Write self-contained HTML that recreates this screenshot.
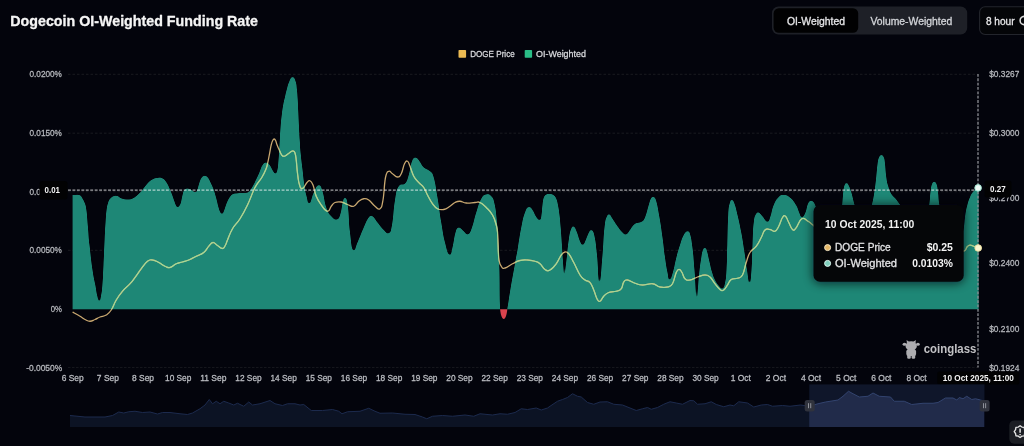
<!DOCTYPE html>
<html lang="en">
<head>
<meta charset="utf-8">
<title>Dogecoin OI-Weighted Funding Rate</title>
<style>
html,body{margin:0;padding:0;}
body{width:1024px;height:446px;overflow:hidden;background:#03040c;font-family:"Liberation Sans",sans-serif;}
svg{display:block;}
svg text{font-family:"Liberation Sans",sans-serif;}
</style>
</head>
<body>
<svg width="1024" height="446" viewBox="0 0 1024 446">
  <defs>
    <clipPath id="cpos"><rect x="72.6" y="0" width="906" height="309.2"/></clipPath>
    <clipPath id="carea"><path d="M72.60,195.00 C74.44,195.03 76.89,194.17 79.50,195.10 C82.11,196.03 81.01,196.39 82.40,198.50 C83.79,200.61 83.63,199.93 84.70,203.00 C85.77,206.07 85.52,203.33 86.40,210.00 C87.28,216.67 87.17,218.67 88.00,228.00 C88.83,237.33 88.30,233.80 89.50,245.00 C90.70,256.20 90.95,259.33 92.50,270.00 C94.05,280.67 94.02,278.07 95.30,285.00 C96.58,291.93 96.23,291.57 97.30,296.00 C98.37,300.43 98.31,301.60 99.30,301.60 C100.29,301.60 100.17,300.43 101.00,296.00 C101.83,291.57 101.73,293.27 102.40,285.00 C103.07,276.73 102.91,277.00 103.50,265.00 C104.09,253.00 104.04,251.47 104.60,240.00 C105.16,228.53 105.07,230.00 105.60,222.00 C106.13,214.00 105.91,215.17 106.60,210.00 C107.29,204.83 107.32,205.53 108.20,202.60 C109.08,199.67 108.65,200.65 109.90,199.00 C111.15,197.35 111.33,197.28 112.90,196.40 C114.47,195.52 114.25,195.70 115.80,195.70 C117.35,195.70 117.58,195.81 118.70,196.40 C119.82,196.99 118.70,197.07 120.00,197.90 C122.35,198.73 123.82,199.50 127.50,199.50 C131.18,199.50 130.44,199.74 133.80,197.90 C137.16,196.06 137.09,195.67 140.10,192.60 C143.11,189.53 142.09,189.73 145.10,186.40 C148.11,183.07 148.04,182.37 151.40,180.10 C154.76,177.83 154.69,178.30 157.70,177.90 C160.71,177.50 160.35,177.35 162.70,178.60 C165.05,179.85 164.50,179.53 166.50,182.60 C168.50,185.67 168.20,185.41 170.20,190.10 C172.20,194.79 172.48,196.17 174.00,200.20 C175.52,204.23 174.89,203.20 175.90,205.20 C176.91,207.20 176.79,207.70 177.80,207.70 C178.81,207.70 178.87,206.53 179.70,205.20 C180.53,203.87 180.07,205.71 180.90,202.70 C181.73,199.69 181.79,197.42 182.80,193.90 C183.81,190.38 183.37,190.91 184.70,189.50 C186.03,188.09 185.96,188.44 187.80,188.60 C189.64,188.76 189.57,189.03 191.60,190.10 C193.63,191.17 193.88,192.60 195.40,192.60 C196.92,192.60 196.31,192.45 197.30,190.10 C198.29,187.75 197.93,187.13 199.10,183.80 C200.27,180.47 200.18,179.76 201.70,177.60 C203.22,175.44 203.15,175.70 204.80,175.70 C206.45,175.70 206.22,175.44 207.90,177.60 C209.58,179.76 209.58,180.63 211.10,183.80 C212.62,186.97 212.27,185.79 213.60,189.50 C214.93,193.21 214.77,192.85 216.10,197.70 C217.43,202.55 217.43,203.70 218.60,207.70 C219.77,211.70 219.65,210.97 220.50,212.70 C221.35,214.43 221.05,214.20 221.80,214.20 C222.55,214.20 222.31,214.75 223.30,212.70 C224.29,210.65 224.41,209.51 225.50,206.50 C226.59,203.49 226.23,203.93 227.40,201.40 C228.57,198.87 228.41,198.95 229.90,197.00 C231.39,195.05 231.16,195.06 233.00,194.10 C234.84,193.14 233.00,193.80 236.80,193.40 C240.80,193.00 244.48,193.37 248.00,192.60 C250.00,191.83 248.40,192.79 250.00,190.50 C251.60,188.21 251.49,188.80 254.00,184.00 C256.51,179.20 257.19,177.41 259.40,172.50 C261.61,167.59 260.59,168.27 262.30,165.60 C264.01,162.93 263.83,162.63 265.80,162.50 C267.77,162.37 267.86,162.94 269.70,165.10 C271.54,167.26 271.18,168.23 272.70,170.60 C274.22,172.97 274.17,174.03 275.40,174.00 C276.63,173.97 276.53,173.43 277.30,170.50 C278.07,167.57 277.82,167.99 278.30,163.00 C278.78,158.01 278.70,157.93 279.10,151.80 C279.50,145.67 279.40,146.61 279.80,140.00 C280.20,133.39 280.07,133.72 280.60,127.00 C281.13,120.28 281.05,120.93 281.80,114.80 C282.55,108.67 282.55,108.75 283.40,104.00 C284.25,99.25 284.09,100.84 285.00,97.00 C285.91,93.16 285.68,93.65 286.80,89.60 C287.92,85.55 287.65,85.24 289.20,81.80 C290.75,78.36 290.87,76.70 292.60,76.70 C294.33,76.70 294.55,78.36 295.70,81.80 C296.85,85.24 296.39,85.28 296.90,89.60 C297.41,93.92 297.25,92.56 297.60,98.00 C297.95,103.44 297.83,102.27 298.20,110.00 C298.57,117.73 298.60,119.00 299.00,127.00 C299.40,135.00 299.22,132.59 299.70,140.00 C300.18,147.41 300.05,146.91 300.80,154.80 C301.55,162.69 301.59,161.81 302.50,169.60 C303.41,177.39 303.13,176.96 304.20,184.00 C305.27,191.04 305.09,190.73 306.50,196.00 C307.91,201.27 307.57,204.68 309.50,203.75 C311.43,202.82 311.28,197.50 313.75,192.50 C316.22,187.50 316.42,185.33 318.75,185.00 C321.08,184.67 320.50,185.25 322.50,191.25 C324.50,197.25 323.92,200.83 326.25,207.50 C328.58,214.17 328.38,213.05 331.25,216.25 C334.12,219.45 334.53,220.17 337.00,219.50 C339.47,218.83 338.90,218.62 340.50,213.75 C342.10,208.88 341.67,205.58 343.00,201.25 C344.33,196.92 344.17,195.83 345.50,197.50 C346.83,199.17 346.80,198.17 348.00,207.50 C349.20,216.83 348.60,221.03 350.00,232.50 C351.40,243.97 351.25,247.83 353.25,250.50 C355.25,253.17 354.70,248.63 357.50,242.50 C360.30,236.37 360.75,234.17 363.75,227.50 C366.75,220.83 366.42,220.50 368.75,217.50 C371.08,214.50 370.17,214.92 372.50,216.25 C374.83,217.58 374.50,218.83 377.50,222.50 C380.50,226.17 380.75,227.13 383.75,230.00 C386.75,232.87 386.55,234.58 388.75,233.25 C390.95,231.92 390.33,233.87 392.00,225.00 C393.67,216.13 393.20,210.33 395.00,200.00 C396.80,189.67 396.08,190.58 398.75,186.25 C401.42,181.92 402.33,186.75 405.00,183.75 C407.67,180.75 406.88,181.00 408.75,175.00 C410.62,169.00 410.20,165.92 412.00,161.25 C413.80,156.58 413.50,157.50 415.50,157.50 C417.50,157.50 417.30,158.58 419.50,161.25 C421.70,163.92 420.95,164.83 423.75,167.50 C426.55,170.17 427.33,168.58 430.00,171.25 C432.67,173.92 431.75,170.50 433.75,177.50 C435.75,184.50 435.50,185.50 437.50,197.50 C439.50,209.50 439.25,210.50 441.25,222.50 C443.25,234.50 442.80,233.83 445.00,242.50 C447.20,251.17 447.50,253.67 449.50,255.00 C451.50,256.33 450.90,253.50 452.50,247.50 C454.10,241.50 453.83,237.83 455.50,232.50 C457.17,227.17 456.55,227.83 458.75,227.50 C460.95,227.17 461.28,229.38 463.75,231.25 C466.22,233.12 465.80,235.50 468.00,234.50 C470.20,233.50 469.80,233.37 472.00,227.50 C474.20,221.63 473.78,220.17 476.25,212.50 C478.72,204.83 478.58,203.55 481.25,198.75 C483.92,193.95 483.58,195.17 486.25,194.50 C488.92,193.83 489.05,193.78 491.25,196.25 C493.45,198.72 492.97,196.75 494.50,203.75 C496.03,210.75 495.93,211.50 497.00,222.50 C498.07,233.50 497.86,232.33 498.50,245.00 C499.14,257.67 498.97,252.88 499.40,270.00 C499.83,287.12 499.40,294.53 500.10,309.20 C501.25,323.87 501.78,325.00 503.70,325.00 C505.62,325.00 505.54,318.53 507.30,309.20 C509.06,299.87 508.11,302.85 510.30,290.00 C512.49,277.15 513.58,271.67 515.50,261.00 C517.42,250.33 515.97,258.93 517.50,250.00 C519.03,241.07 519.25,237.50 521.25,227.50 C523.25,217.50 523.00,217.97 525.00,212.50 C527.00,207.03 526.75,207.67 528.75,207.00 C530.75,206.33 530.50,207.33 532.50,210.00 C534.50,212.67 534.25,214.28 536.25,217.00 C538.25,219.72 538.60,220.71 540.00,220.20 C541.40,219.69 540.83,219.13 541.50,215.10 C542.17,211.07 541.89,209.79 542.50,205.10 C543.11,200.41 542.79,200.35 543.80,197.50 C544.81,194.65 544.65,195.33 546.30,194.40 C547.95,193.47 548.00,193.76 550.00,194.00 C552.00,194.24 552.12,194.02 553.80,195.30 C555.48,196.58 555.13,195.87 556.30,198.80 C557.47,201.73 557.35,201.95 558.20,206.30 C559.05,210.65 558.83,209.39 559.50,215.10 C560.17,220.81 560.03,219.46 560.70,227.70 C561.37,235.94 561.41,237.39 562.00,246.00 C562.59,254.61 562.30,252.13 562.90,260.00 C563.50,267.87 563.36,274.97 564.25,275.50 C565.14,276.03 565.05,271.47 566.25,262.00 C567.45,252.53 567.42,248.87 568.75,240.00 C570.08,231.13 569.92,232.42 571.25,228.75 C572.58,225.08 572.22,225.25 573.75,226.25 C575.28,227.25 575.33,228.50 577.00,232.50 C578.67,236.50 578.40,237.92 580.00,241.25 C581.60,244.58 581.33,245.67 583.00,245.00 C584.67,244.33 584.52,242.42 586.25,238.75 C587.98,235.08 588.03,233.58 589.50,231.25 C590.97,228.92 590.42,228.67 591.75,230.00 C593.08,231.33 593.10,229.58 594.50,236.25 C595.90,242.92 595.67,242.53 597.00,255.00 C598.33,267.47 598.03,283.00 599.50,283.00 C600.97,283.00 601.17,269.80 602.50,255.00 C603.83,240.20 603.30,237.83 604.50,227.50 C605.70,217.17 605.67,219.78 607.00,216.25 C608.33,212.72 608.03,213.58 609.50,214.25 C610.97,214.92 610.37,215.55 612.50,218.75 C614.63,221.95 614.83,222.58 617.50,226.25 C620.17,229.92 620.17,230.30 622.50,232.50 C624.83,234.70 624.25,235.17 626.25,234.50 C628.25,233.83 627.67,232.87 630.00,230.00 C632.33,227.13 632.00,225.88 635.00,223.75 C638.00,221.62 638.58,223.67 641.25,222.00 C643.92,220.33 643.00,222.03 645.00,217.50 C647.00,212.97 647.08,210.20 648.75,205.00 C650.42,199.80 649.92,200.13 651.25,198.00 C652.58,195.87 652.42,196.13 653.75,197.00 C655.08,197.87 654.72,195.78 656.25,201.25 C657.78,206.72 657.83,207.83 659.50,217.50 C661.17,227.17 661.03,226.83 662.50,237.50 C663.97,248.17 663.67,248.17 665.00,257.50 C666.33,266.83 666.30,266.50 667.50,272.50 C668.70,278.50 668.03,280.13 669.50,280.00 C670.97,279.87 671.20,277.87 673.00,272.00 C674.80,266.13 674.38,265.20 676.25,258.00 C678.12,250.80 678.00,251.13 680.00,245.00 C682.00,238.87 681.75,238.67 683.75,235.00 C685.75,231.33 685.83,231.52 687.50,231.25 C689.17,230.98 688.67,229.53 690.00,234.00 C691.33,238.47 691.30,238.40 692.50,248.00 C693.70,257.60 693.37,256.40 694.50,270.00 C695.63,283.60 695.55,297.67 696.75,299.00 C697.95,300.33 697.80,285.93 699.00,275.00 C700.20,264.07 700.18,264.67 701.25,258.00 C702.32,251.33 701.93,252.80 703.00,250.00 C704.07,247.20 704.18,247.17 705.25,247.50 C706.32,247.83 705.87,247.38 707.00,251.25 C708.13,255.12 708.17,256.47 709.50,262.00 C710.83,267.53 710.53,267.20 712.00,272.00 C713.47,276.80 713.13,276.27 715.00,280.00 C716.87,283.73 717.00,283.67 719.00,286.00 C721.00,288.33 720.90,289.55 722.50,288.75 C724.10,287.95 723.93,288.00 725.00,283.00 C726.07,278.00 725.89,280.13 726.50,270.00 C727.11,259.87 726.83,259.67 727.30,245.00 C727.77,230.33 727.53,226.33 728.25,215.00 C728.97,203.67 729.00,206.63 730.00,202.50 C731.00,198.37 730.80,199.17 732.00,199.50 C733.20,199.83 733.03,199.62 734.50,203.75 C735.97,207.88 735.70,207.33 737.50,215.00 C739.30,222.67 739.38,222.50 741.25,232.50 C743.12,242.50 742.97,242.50 744.50,252.50 C746.03,262.50 745.67,261.73 747.00,270.00 C748.33,278.27 748.30,283.50 749.50,283.50 C750.70,283.50 750.70,280.27 751.50,270.00 C752.30,259.73 751.90,257.67 752.50,245.00 C753.10,232.33 752.75,230.83 753.75,222.50 C754.75,214.17 754.92,216.42 756.25,213.75 C757.58,211.08 757.08,211.83 758.75,212.50 C760.42,213.17 760.17,213.72 762.50,216.25 C764.83,218.78 765.37,222.00 767.50,222.00 C769.63,222.00 768.83,220.78 770.50,216.25 C772.17,211.72 771.55,210.13 773.75,205.00 C775.95,199.87 776.08,199.67 778.75,197.00 C781.42,194.33 780.75,194.87 783.75,195.00 C786.75,195.13 786.73,194.83 790.00,197.50 C793.27,200.17 793.60,201.13 796.00,205.00 C798.40,208.87 797.47,208.67 799.00,212.00 C800.53,215.33 800.02,217.37 801.75,217.50 C803.48,217.63 803.83,216.17 805.50,212.50 C807.17,208.83 806.33,206.88 808.00,203.75 C809.67,200.62 809.62,199.88 811.75,200.75 C813.88,201.62 813.27,200.53 816.00,207.00 C818.73,213.47 818.27,216.20 822.00,225.00 C825.73,233.80 825.73,240.00 830.00,240.00 C834.27,240.00 834.93,232.47 838.00,225.00 C841.07,217.53 840.38,217.33 841.50,212.00 C842.20,206.67 841.72,210.33 842.20,205.00 C842.68,199.67 842.71,197.12 843.30,192.00 C843.89,186.88 843.55,188.36 844.40,185.80 C845.25,183.24 845.33,182.40 846.50,182.40 C847.67,182.40 847.55,183.24 848.80,185.80 C850.05,188.36 849.65,186.88 851.20,192.00 C852.75,197.12 852.79,198.87 854.60,205.00 C856.41,211.13 855.49,211.00 858.00,215.00 C860.51,219.00 861.07,220.00 864.00,220.00 C866.93,220.00 866.89,219.00 869.00,215.00 C871.11,211.00 870.46,211.11 871.90,205.00 C873.34,198.89 873.23,199.73 874.40,192.10 C875.57,184.47 875.45,183.95 876.30,176.40 C877.15,168.85 876.88,168.81 877.60,163.80 C878.32,158.79 878.01,160.03 879.00,157.60 C879.99,155.17 879.99,154.70 881.30,154.70 C882.61,154.70 882.91,155.17 883.90,157.60 C884.89,160.03 884.39,158.79 885.00,163.80 C885.61,168.81 885.37,170.53 886.20,176.40 C887.03,182.27 886.77,181.19 888.10,185.80 C889.43,190.41 889.09,190.13 891.20,193.70 C893.31,197.27 893.57,196.19 896.00,199.20 C898.43,202.21 897.10,200.79 900.30,205.00 C903.50,209.21 902.75,211.53 908.00,215.00 C913.25,218.47 914.93,218.80 920.00,218.00 C925.07,217.20 924.55,215.47 927.00,212.00 C929.20,208.53 928.27,210.33 929.20,205.00 C930.13,199.67 929.75,197.60 930.50,192.00 C931.25,186.40 931.04,186.83 932.00,184.00 C932.96,181.17 932.90,181.40 934.10,181.40 C935.30,181.40 935.46,181.17 936.50,184.00 C937.54,186.83 937.23,186.40 938.00,192.00 C938.77,197.60 938.07,197.53 939.40,205.00 C940.73,212.47 940.17,210.67 943.00,220.00 C945.83,229.33 946.00,233.33 950.00,240.00 C954.00,246.67 954.53,247.13 958.00,245.00 C961.47,242.87 961.05,240.00 963.00,232.00 C964.95,224.00 964.13,222.20 965.30,215.00 C966.47,207.80 966.09,209.85 967.40,205.00 C968.71,200.15 968.73,200.24 970.20,196.80 C971.67,193.36 971.35,194.18 972.90,192.10 C974.45,190.02 974.64,190.09 976.00,189.00 C977.36,187.91 977.47,188.27 978.00,188.00 L978.00,309.20 L72.60,309.20 Z"/></clipPath>
    <clipPath id="cwin"><rect x="809.25" y="380" width="175.2" height="47"/></clipPath>
    <filter id="goo" filterUnits="userSpaceOnUse" x="40" y="50" width="970" height="300" color-interpolation-filters="sRGB"><feGaussianBlur stdDeviation="0.9" result="b"/><feComponentTransfer in="b"><feFuncA type="linear" slope="4" intercept="-1.5"/></feComponentTransfer></filter>
    <filter id="sh" x="-30%" y="-30%" width="160%" height="160%"><feGaussianBlur stdDeviation="5"/></filter>
  </defs>
  <rect x="0" y="0" width="1024" height="446" fill="#03040c"/>

  <!-- header -->
  <text x="10.25" y="25.50" font-size="14.8" font-weight="700" fill="#f5f5f5" textLength="247.75" lengthAdjust="spacingAndGlyphs" stroke="#f5f5f5" stroke-width="0.3" stroke-linejoin="round">Dogecoin OI-Weighted Funding Rate</text>
  <rect x="772" y="6.6" width="195.2" height="27.9" rx="6.5" fill="#1e2027"/>
  <rect x="773.6" y="8.3" width="84.6" height="24.4" rx="5.2" fill="#010102"/>
  <rect x="979.6" y="6.7" width="60" height="27.8" rx="5.5" fill="#040508" stroke="#23252c" stroke-width="1.1"/>
  <path d="M1024.2,16.4 A4.1,4.1 0 0 0 1024.2,24.6" fill="none" stroke="#dcdcdc" stroke-width="1.6"/>
  <text x="786.90" y="24.50" font-size="10.3" font-weight="400" fill="#e6e6e8" textLength="58.10" lengthAdjust="spacingAndGlyphs" stroke="#e6e6e8" stroke-width="0.3" stroke-linejoin="round">OI-Weighted</text>
  <text x="870.50" y="24.50" font-size="10.3" font-weight="400" fill="#d3d5d9" textLength="81.70" lengthAdjust="spacingAndGlyphs" stroke="#d3d5d9" stroke-width="0.3" stroke-linejoin="round">Volume-Weighted</text>
  <text x="985.90" y="24.50" font-size="10.3" font-weight="400" fill="#e6e6e8" textLength="28.70" lengthAdjust="spacingAndGlyphs" stroke="#e6e6e8" stroke-width="0.3" stroke-linejoin="round">8 hour</text>

  <!-- grid -->
  <g stroke="#1a1b20" stroke-width="1" stroke-dasharray="2.5 2" fill="none">
    <line x1="68" y1="74.3" x2="978" y2="74.3"/>
    <line x1="68" y1="133.2" x2="978" y2="133.2"/>
    <line x1="68" y1="191.7" x2="978" y2="191.7"/>
    <line x1="68" y1="250.3" x2="978" y2="250.3"/>
  </g>
  <line x1="68" y1="367.5" x2="978" y2="367.5" stroke="#15161c" stroke-width="1" stroke-dasharray="2.5 1.5"/>
  <!-- axis labels -->
  <text x="29.50" y="77.40" font-size="9.3" font-weight="400" fill="#b4b6bb" textLength="32.40" lengthAdjust="spacingAndGlyphs" stroke="#b4b6bb" stroke-width="0.3" stroke-linejoin="round">0.0200%</text>
  <text x="29.50" y="136.40" font-size="9.3" font-weight="400" fill="#b4b6bb" textLength="32.40" lengthAdjust="spacingAndGlyphs" stroke="#b4b6bb" stroke-width="0.3" stroke-linejoin="round">0.0150%</text>
  <text x="29.50" y="194.80" font-size="9.3" font-weight="400" fill="#b4b6bb" textLength="32.40" lengthAdjust="spacingAndGlyphs" stroke="#b4b6bb" stroke-width="0.3" stroke-linejoin="round">0.0100%</text>
  <text x="29.50" y="253.40" font-size="9.3" font-weight="400" fill="#b4b6bb" textLength="32.40" lengthAdjust="spacingAndGlyphs" stroke="#b4b6bb" stroke-width="0.3" stroke-linejoin="round">0.0050%</text>
  <text x="50.70" y="311.80" font-size="9.3" font-weight="400" fill="#b4b6bb" textLength="11.20" lengthAdjust="spacingAndGlyphs" stroke="#b4b6bb" stroke-width="0.3" stroke-linejoin="round">0%</text>
  <text x="26.20" y="370.80" font-size="9.3" font-weight="400" fill="#b4b6bb" textLength="36.00" lengthAdjust="spacingAndGlyphs" stroke="#b4b6bb" stroke-width="0.3" stroke-linejoin="round">-0.0050%</text>
  <text x="989.20" y="77.40" font-size="9.3" font-weight="400" fill="#b4b6bb" textLength="30.10" lengthAdjust="spacingAndGlyphs" stroke="#b4b6bb" stroke-width="0.3" stroke-linejoin="round">$0.3267</text>
  <text x="989.20" y="136.40" font-size="9.3" font-weight="400" fill="#b4b6bb" textLength="30.10" lengthAdjust="spacingAndGlyphs" stroke="#b4b6bb" stroke-width="0.3" stroke-linejoin="round">$0.3000</text>
  <text x="989.20" y="201.30" font-size="9.3" font-weight="400" fill="#b4b6bb" textLength="30.10" lengthAdjust="spacingAndGlyphs" stroke="#b4b6bb" stroke-width="0.3" stroke-linejoin="round">$0.2700</text>
  <text x="989.20" y="266.30" font-size="9.3" font-weight="400" fill="#b4b6bb" textLength="30.10" lengthAdjust="spacingAndGlyphs" stroke="#b4b6bb" stroke-width="0.3" stroke-linejoin="round">$0.2400</text>
  <text x="989.20" y="332.00" font-size="9.3" font-weight="400" fill="#b4b6bb" textLength="30.10" lengthAdjust="spacingAndGlyphs" stroke="#b4b6bb" stroke-width="0.3" stroke-linejoin="round">$0.2100</text>
  <text x="989.20" y="370.50" font-size="9.3" font-weight="400" fill="#b4b6bb" textLength="30.10" lengthAdjust="spacingAndGlyphs" stroke="#b4b6bb" stroke-width="0.3" stroke-linejoin="round">$0.1924</text>
  <!-- legend -->
  <rect x="458.5" y="50" width="7.6" height="7.7" rx="0.8" fill="#ecba52"/>
  <rect x="524.7" y="50" width="7.4" height="7.7" rx="0.8" fill="#2abd86"/>
  <text x="470.20" y="57.10" font-size="9.6" font-weight="400" fill="#d6d7db" textLength="44.50" lengthAdjust="spacingAndGlyphs" stroke="#d6d7db" stroke-width="0.3" stroke-linejoin="round">DOGE Price</text>
  <text x="536.10" y="57.10" font-size="9.6" font-weight="400" fill="#d6d7db" textLength="49.80" lengthAdjust="spacingAndGlyphs" stroke="#d6d7db" stroke-width="0.3" stroke-linejoin="round">OI-Weighted</text>
  <!-- area -->
  <g clip-path="url(#cpos)"><g filter="url(#goo)"><path d="M72.60,195.00 C74.44,195.03 76.89,194.17 79.50,195.10 C82.11,196.03 81.01,196.39 82.40,198.50 C83.79,200.61 83.63,199.93 84.70,203.00 C85.77,206.07 85.52,203.33 86.40,210.00 C87.28,216.67 87.17,218.67 88.00,228.00 C88.83,237.33 88.30,233.80 89.50,245.00 C90.70,256.20 90.95,259.33 92.50,270.00 C94.05,280.67 94.02,278.07 95.30,285.00 C96.58,291.93 96.23,291.57 97.30,296.00 C98.37,300.43 98.31,301.60 99.30,301.60 C100.29,301.60 100.17,300.43 101.00,296.00 C101.83,291.57 101.73,293.27 102.40,285.00 C103.07,276.73 102.91,277.00 103.50,265.00 C104.09,253.00 104.04,251.47 104.60,240.00 C105.16,228.53 105.07,230.00 105.60,222.00 C106.13,214.00 105.91,215.17 106.60,210.00 C107.29,204.83 107.32,205.53 108.20,202.60 C109.08,199.67 108.65,200.65 109.90,199.00 C111.15,197.35 111.33,197.28 112.90,196.40 C114.47,195.52 114.25,195.70 115.80,195.70 C117.35,195.70 117.58,195.81 118.70,196.40 C119.82,196.99 118.70,197.07 120.00,197.90 C122.35,198.73 123.82,199.50 127.50,199.50 C131.18,199.50 130.44,199.74 133.80,197.90 C137.16,196.06 137.09,195.67 140.10,192.60 C143.11,189.53 142.09,189.73 145.10,186.40 C148.11,183.07 148.04,182.37 151.40,180.10 C154.76,177.83 154.69,178.30 157.70,177.90 C160.71,177.50 160.35,177.35 162.70,178.60 C165.05,179.85 164.50,179.53 166.50,182.60 C168.50,185.67 168.20,185.41 170.20,190.10 C172.20,194.79 172.48,196.17 174.00,200.20 C175.52,204.23 174.89,203.20 175.90,205.20 C176.91,207.20 176.79,207.70 177.80,207.70 C178.81,207.70 178.87,206.53 179.70,205.20 C180.53,203.87 180.07,205.71 180.90,202.70 C181.73,199.69 181.79,197.42 182.80,193.90 C183.81,190.38 183.37,190.91 184.70,189.50 C186.03,188.09 185.96,188.44 187.80,188.60 C189.64,188.76 189.57,189.03 191.60,190.10 C193.63,191.17 193.88,192.60 195.40,192.60 C196.92,192.60 196.31,192.45 197.30,190.10 C198.29,187.75 197.93,187.13 199.10,183.80 C200.27,180.47 200.18,179.76 201.70,177.60 C203.22,175.44 203.15,175.70 204.80,175.70 C206.45,175.70 206.22,175.44 207.90,177.60 C209.58,179.76 209.58,180.63 211.10,183.80 C212.62,186.97 212.27,185.79 213.60,189.50 C214.93,193.21 214.77,192.85 216.10,197.70 C217.43,202.55 217.43,203.70 218.60,207.70 C219.77,211.70 219.65,210.97 220.50,212.70 C221.35,214.43 221.05,214.20 221.80,214.20 C222.55,214.20 222.31,214.75 223.30,212.70 C224.29,210.65 224.41,209.51 225.50,206.50 C226.59,203.49 226.23,203.93 227.40,201.40 C228.57,198.87 228.41,198.95 229.90,197.00 C231.39,195.05 231.16,195.06 233.00,194.10 C234.84,193.14 233.00,193.80 236.80,193.40 C240.80,193.00 244.48,193.37 248.00,192.60 C250.00,191.83 248.40,192.79 250.00,190.50 C251.60,188.21 251.49,188.80 254.00,184.00 C256.51,179.20 257.19,177.41 259.40,172.50 C261.61,167.59 260.59,168.27 262.30,165.60 C264.01,162.93 263.83,162.63 265.80,162.50 C267.77,162.37 267.86,162.94 269.70,165.10 C271.54,167.26 271.18,168.23 272.70,170.60 C274.22,172.97 274.17,174.03 275.40,174.00 C276.63,173.97 276.53,173.43 277.30,170.50 C278.07,167.57 277.82,167.99 278.30,163.00 C278.78,158.01 278.70,157.93 279.10,151.80 C279.50,145.67 279.40,146.61 279.80,140.00 C280.20,133.39 280.07,133.72 280.60,127.00 C281.13,120.28 281.05,120.93 281.80,114.80 C282.55,108.67 282.55,108.75 283.40,104.00 C284.25,99.25 284.09,100.84 285.00,97.00 C285.91,93.16 285.68,93.65 286.80,89.60 C287.92,85.55 287.65,85.24 289.20,81.80 C290.75,78.36 290.87,76.70 292.60,76.70 C294.33,76.70 294.55,78.36 295.70,81.80 C296.85,85.24 296.39,85.28 296.90,89.60 C297.41,93.92 297.25,92.56 297.60,98.00 C297.95,103.44 297.83,102.27 298.20,110.00 C298.57,117.73 298.60,119.00 299.00,127.00 C299.40,135.00 299.22,132.59 299.70,140.00 C300.18,147.41 300.05,146.91 300.80,154.80 C301.55,162.69 301.59,161.81 302.50,169.60 C303.41,177.39 303.13,176.96 304.20,184.00 C305.27,191.04 305.09,190.73 306.50,196.00 C307.91,201.27 307.57,204.68 309.50,203.75 C311.43,202.82 311.28,197.50 313.75,192.50 C316.22,187.50 316.42,185.33 318.75,185.00 C321.08,184.67 320.50,185.25 322.50,191.25 C324.50,197.25 323.92,200.83 326.25,207.50 C328.58,214.17 328.38,213.05 331.25,216.25 C334.12,219.45 334.53,220.17 337.00,219.50 C339.47,218.83 338.90,218.62 340.50,213.75 C342.10,208.88 341.67,205.58 343.00,201.25 C344.33,196.92 344.17,195.83 345.50,197.50 C346.83,199.17 346.80,198.17 348.00,207.50 C349.20,216.83 348.60,221.03 350.00,232.50 C351.40,243.97 351.25,247.83 353.25,250.50 C355.25,253.17 354.70,248.63 357.50,242.50 C360.30,236.37 360.75,234.17 363.75,227.50 C366.75,220.83 366.42,220.50 368.75,217.50 C371.08,214.50 370.17,214.92 372.50,216.25 C374.83,217.58 374.50,218.83 377.50,222.50 C380.50,226.17 380.75,227.13 383.75,230.00 C386.75,232.87 386.55,234.58 388.75,233.25 C390.95,231.92 390.33,233.87 392.00,225.00 C393.67,216.13 393.20,210.33 395.00,200.00 C396.80,189.67 396.08,190.58 398.75,186.25 C401.42,181.92 402.33,186.75 405.00,183.75 C407.67,180.75 406.88,181.00 408.75,175.00 C410.62,169.00 410.20,165.92 412.00,161.25 C413.80,156.58 413.50,157.50 415.50,157.50 C417.50,157.50 417.30,158.58 419.50,161.25 C421.70,163.92 420.95,164.83 423.75,167.50 C426.55,170.17 427.33,168.58 430.00,171.25 C432.67,173.92 431.75,170.50 433.75,177.50 C435.75,184.50 435.50,185.50 437.50,197.50 C439.50,209.50 439.25,210.50 441.25,222.50 C443.25,234.50 442.80,233.83 445.00,242.50 C447.20,251.17 447.50,253.67 449.50,255.00 C451.50,256.33 450.90,253.50 452.50,247.50 C454.10,241.50 453.83,237.83 455.50,232.50 C457.17,227.17 456.55,227.83 458.75,227.50 C460.95,227.17 461.28,229.38 463.75,231.25 C466.22,233.12 465.80,235.50 468.00,234.50 C470.20,233.50 469.80,233.37 472.00,227.50 C474.20,221.63 473.78,220.17 476.25,212.50 C478.72,204.83 478.58,203.55 481.25,198.75 C483.92,193.95 483.58,195.17 486.25,194.50 C488.92,193.83 489.05,193.78 491.25,196.25 C493.45,198.72 492.97,196.75 494.50,203.75 C496.03,210.75 495.93,211.50 497.00,222.50 C498.07,233.50 497.86,232.33 498.50,245.00 C499.14,257.67 498.97,252.88 499.40,270.00 C499.83,287.12 499.40,294.53 500.10,309.20 C501.25,323.87 501.78,325.00 503.70,325.00 C505.62,325.00 505.54,318.53 507.30,309.20 C509.06,299.87 508.11,302.85 510.30,290.00 C512.49,277.15 513.58,271.67 515.50,261.00 C517.42,250.33 515.97,258.93 517.50,250.00 C519.03,241.07 519.25,237.50 521.25,227.50 C523.25,217.50 523.00,217.97 525.00,212.50 C527.00,207.03 526.75,207.67 528.75,207.00 C530.75,206.33 530.50,207.33 532.50,210.00 C534.50,212.67 534.25,214.28 536.25,217.00 C538.25,219.72 538.60,220.71 540.00,220.20 C541.40,219.69 540.83,219.13 541.50,215.10 C542.17,211.07 541.89,209.79 542.50,205.10 C543.11,200.41 542.79,200.35 543.80,197.50 C544.81,194.65 544.65,195.33 546.30,194.40 C547.95,193.47 548.00,193.76 550.00,194.00 C552.00,194.24 552.12,194.02 553.80,195.30 C555.48,196.58 555.13,195.87 556.30,198.80 C557.47,201.73 557.35,201.95 558.20,206.30 C559.05,210.65 558.83,209.39 559.50,215.10 C560.17,220.81 560.03,219.46 560.70,227.70 C561.37,235.94 561.41,237.39 562.00,246.00 C562.59,254.61 562.30,252.13 562.90,260.00 C563.50,267.87 563.36,274.97 564.25,275.50 C565.14,276.03 565.05,271.47 566.25,262.00 C567.45,252.53 567.42,248.87 568.75,240.00 C570.08,231.13 569.92,232.42 571.25,228.75 C572.58,225.08 572.22,225.25 573.75,226.25 C575.28,227.25 575.33,228.50 577.00,232.50 C578.67,236.50 578.40,237.92 580.00,241.25 C581.60,244.58 581.33,245.67 583.00,245.00 C584.67,244.33 584.52,242.42 586.25,238.75 C587.98,235.08 588.03,233.58 589.50,231.25 C590.97,228.92 590.42,228.67 591.75,230.00 C593.08,231.33 593.10,229.58 594.50,236.25 C595.90,242.92 595.67,242.53 597.00,255.00 C598.33,267.47 598.03,283.00 599.50,283.00 C600.97,283.00 601.17,269.80 602.50,255.00 C603.83,240.20 603.30,237.83 604.50,227.50 C605.70,217.17 605.67,219.78 607.00,216.25 C608.33,212.72 608.03,213.58 609.50,214.25 C610.97,214.92 610.37,215.55 612.50,218.75 C614.63,221.95 614.83,222.58 617.50,226.25 C620.17,229.92 620.17,230.30 622.50,232.50 C624.83,234.70 624.25,235.17 626.25,234.50 C628.25,233.83 627.67,232.87 630.00,230.00 C632.33,227.13 632.00,225.88 635.00,223.75 C638.00,221.62 638.58,223.67 641.25,222.00 C643.92,220.33 643.00,222.03 645.00,217.50 C647.00,212.97 647.08,210.20 648.75,205.00 C650.42,199.80 649.92,200.13 651.25,198.00 C652.58,195.87 652.42,196.13 653.75,197.00 C655.08,197.87 654.72,195.78 656.25,201.25 C657.78,206.72 657.83,207.83 659.50,217.50 C661.17,227.17 661.03,226.83 662.50,237.50 C663.97,248.17 663.67,248.17 665.00,257.50 C666.33,266.83 666.30,266.50 667.50,272.50 C668.70,278.50 668.03,280.13 669.50,280.00 C670.97,279.87 671.20,277.87 673.00,272.00 C674.80,266.13 674.38,265.20 676.25,258.00 C678.12,250.80 678.00,251.13 680.00,245.00 C682.00,238.87 681.75,238.67 683.75,235.00 C685.75,231.33 685.83,231.52 687.50,231.25 C689.17,230.98 688.67,229.53 690.00,234.00 C691.33,238.47 691.30,238.40 692.50,248.00 C693.70,257.60 693.37,256.40 694.50,270.00 C695.63,283.60 695.55,297.67 696.75,299.00 C697.95,300.33 697.80,285.93 699.00,275.00 C700.20,264.07 700.18,264.67 701.25,258.00 C702.32,251.33 701.93,252.80 703.00,250.00 C704.07,247.20 704.18,247.17 705.25,247.50 C706.32,247.83 705.87,247.38 707.00,251.25 C708.13,255.12 708.17,256.47 709.50,262.00 C710.83,267.53 710.53,267.20 712.00,272.00 C713.47,276.80 713.13,276.27 715.00,280.00 C716.87,283.73 717.00,283.67 719.00,286.00 C721.00,288.33 720.90,289.55 722.50,288.75 C724.10,287.95 723.93,288.00 725.00,283.00 C726.07,278.00 725.89,280.13 726.50,270.00 C727.11,259.87 726.83,259.67 727.30,245.00 C727.77,230.33 727.53,226.33 728.25,215.00 C728.97,203.67 729.00,206.63 730.00,202.50 C731.00,198.37 730.80,199.17 732.00,199.50 C733.20,199.83 733.03,199.62 734.50,203.75 C735.97,207.88 735.70,207.33 737.50,215.00 C739.30,222.67 739.38,222.50 741.25,232.50 C743.12,242.50 742.97,242.50 744.50,252.50 C746.03,262.50 745.67,261.73 747.00,270.00 C748.33,278.27 748.30,283.50 749.50,283.50 C750.70,283.50 750.70,280.27 751.50,270.00 C752.30,259.73 751.90,257.67 752.50,245.00 C753.10,232.33 752.75,230.83 753.75,222.50 C754.75,214.17 754.92,216.42 756.25,213.75 C757.58,211.08 757.08,211.83 758.75,212.50 C760.42,213.17 760.17,213.72 762.50,216.25 C764.83,218.78 765.37,222.00 767.50,222.00 C769.63,222.00 768.83,220.78 770.50,216.25 C772.17,211.72 771.55,210.13 773.75,205.00 C775.95,199.87 776.08,199.67 778.75,197.00 C781.42,194.33 780.75,194.87 783.75,195.00 C786.75,195.13 786.73,194.83 790.00,197.50 C793.27,200.17 793.60,201.13 796.00,205.00 C798.40,208.87 797.47,208.67 799.00,212.00 C800.53,215.33 800.02,217.37 801.75,217.50 C803.48,217.63 803.83,216.17 805.50,212.50 C807.17,208.83 806.33,206.88 808.00,203.75 C809.67,200.62 809.62,199.88 811.75,200.75 C813.88,201.62 813.27,200.53 816.00,207.00 C818.73,213.47 818.27,216.20 822.00,225.00 C825.73,233.80 825.73,240.00 830.00,240.00 C834.27,240.00 834.93,232.47 838.00,225.00 C841.07,217.53 840.38,217.33 841.50,212.00 C842.20,206.67 841.72,210.33 842.20,205.00 C842.68,199.67 842.71,197.12 843.30,192.00 C843.89,186.88 843.55,188.36 844.40,185.80 C845.25,183.24 845.33,182.40 846.50,182.40 C847.67,182.40 847.55,183.24 848.80,185.80 C850.05,188.36 849.65,186.88 851.20,192.00 C852.75,197.12 852.79,198.87 854.60,205.00 C856.41,211.13 855.49,211.00 858.00,215.00 C860.51,219.00 861.07,220.00 864.00,220.00 C866.93,220.00 866.89,219.00 869.00,215.00 C871.11,211.00 870.46,211.11 871.90,205.00 C873.34,198.89 873.23,199.73 874.40,192.10 C875.57,184.47 875.45,183.95 876.30,176.40 C877.15,168.85 876.88,168.81 877.60,163.80 C878.32,158.79 878.01,160.03 879.00,157.60 C879.99,155.17 879.99,154.70 881.30,154.70 C882.61,154.70 882.91,155.17 883.90,157.60 C884.89,160.03 884.39,158.79 885.00,163.80 C885.61,168.81 885.37,170.53 886.20,176.40 C887.03,182.27 886.77,181.19 888.10,185.80 C889.43,190.41 889.09,190.13 891.20,193.70 C893.31,197.27 893.57,196.19 896.00,199.20 C898.43,202.21 897.10,200.79 900.30,205.00 C903.50,209.21 902.75,211.53 908.00,215.00 C913.25,218.47 914.93,218.80 920.00,218.00 C925.07,217.20 924.55,215.47 927.00,212.00 C929.20,208.53 928.27,210.33 929.20,205.00 C930.13,199.67 929.75,197.60 930.50,192.00 C931.25,186.40 931.04,186.83 932.00,184.00 C932.96,181.17 932.90,181.40 934.10,181.40 C935.30,181.40 935.46,181.17 936.50,184.00 C937.54,186.83 937.23,186.40 938.00,192.00 C938.77,197.60 938.07,197.53 939.40,205.00 C940.73,212.47 940.17,210.67 943.00,220.00 C945.83,229.33 946.00,233.33 950.00,240.00 C954.00,246.67 954.53,247.13 958.00,245.00 C961.47,242.87 961.05,240.00 963.00,232.00 C964.95,224.00 964.13,222.20 965.30,215.00 C966.47,207.80 966.09,209.85 967.40,205.00 C968.71,200.15 968.73,200.24 970.20,196.80 C971.67,193.36 971.35,194.18 972.90,192.10 C974.45,190.02 974.64,190.09 976.00,189.00 C977.36,187.91 977.47,188.27 978.00,188.00 L993.00,188.00 L993.00,340 L57.60,340 L57.60,195.00 Z" fill="#1e8776"/></g></g>
  <path d="M500.1,309.2 C500.5,313.5 501.7,318.9 503.7,318.9 C505.7,318.9 506.9,313.5 507.3,309.2 Z" fill="#d9434e"/>
  <!-- price line -->
  <path d="M72.60,312.00 C74.33,312.99 77.11,314.50 80.00,316.25 C82.89,318.00 82.67,318.33 85.00,319.50 C87.33,320.67 87.67,321.25 90.00,321.25 C92.33,321.25 92.67,320.49 95.00,319.50 C97.33,318.51 97.38,318.05 100.00,317.00 C102.62,315.95 103.62,316.63 106.25,315.00 C108.88,313.37 108.92,313.50 111.25,310.00 C113.58,306.50 113.62,304.38 116.25,300.00 C118.88,295.62 119.29,295.04 122.50,291.25 C125.71,287.46 127.08,286.96 130.00,283.75 C132.92,280.54 132.38,281.00 135.00,277.50 C137.62,274.00 138.33,272.54 141.25,268.75 C144.17,264.96 144.88,263.29 147.50,261.25 C150.12,259.21 149.88,259.71 152.50,260.00 C155.12,260.29 155.83,261.04 158.75,262.50 C161.67,263.96 162.38,265.08 165.00,266.25 C167.62,267.42 167.38,268.08 170.00,267.50 C172.62,266.92 173.33,265.03 176.25,263.75 C179.17,262.47 179.58,262.88 182.50,262.00 C185.42,261.12 185.54,261.34 188.75,260.00 C191.96,258.66 192.75,258.00 196.25,256.25 C199.75,254.50 200.83,254.83 203.75,252.50 C206.67,250.17 206.59,248.58 208.75,246.25 C210.91,243.92 210.96,242.68 213.00,242.50 C215.04,242.32 215.28,244.10 217.50,245.50 C219.72,246.90 220.63,248.62 222.50,248.50 C224.37,248.38 224.33,246.98 225.50,245.00 C226.67,243.02 225.87,243.79 227.50,240.00 C229.13,236.21 229.58,233.71 232.50,228.75 C235.42,223.79 236.50,224.29 240.00,218.75 C243.50,213.21 244.00,212.29 247.50,205.00 C251.00,197.71 251.66,193.92 255.00,187.50 C258.34,181.08 259.28,181.68 261.80,177.50 C264.32,173.32 264.41,173.05 265.80,169.60 C267.19,166.15 266.84,166.62 267.75,162.70 C268.66,158.78 268.89,156.93 269.70,152.80 C270.50,148.67 270.50,147.87 271.20,145.00 C271.90,142.13 272.00,141.90 272.70,140.50 C273.40,139.10 273.50,138.93 274.20,139.00 C274.90,139.07 275.02,139.40 275.70,140.80 C276.38,142.20 276.19,142.67 277.10,145.00 C278.01,147.33 278.55,148.51 279.60,150.80 C280.65,153.09 280.57,153.52 281.60,154.80 C282.63,156.08 282.62,156.42 284.00,156.30 C285.38,156.18 285.89,155.35 287.50,154.30 C289.11,153.25 289.64,152.57 290.90,151.80 C292.16,151.03 291.97,150.77 292.90,151.00 C293.83,151.23 294.13,150.77 294.90,152.80 C295.67,154.83 295.69,155.78 296.20,159.70 C296.71,163.62 296.61,165.00 297.10,169.60 C297.59,174.20 297.79,176.04 298.30,179.40 C298.81,182.76 298.67,181.92 299.30,184.00 C299.93,186.08 299.96,187.48 301.00,188.30 C302.04,189.12 302.35,188.85 303.75,187.50 C305.15,186.15 305.54,184.07 307.00,182.50 C308.46,180.93 308.60,180.17 310.00,180.75 C311.40,181.33 311.54,181.38 313.00,185.00 C314.46,188.62 314.32,191.58 316.25,196.25 C318.18,200.92 318.62,201.50 321.25,205.00 C323.88,208.50 325.17,210.96 327.50,211.25 C329.83,211.54 329.50,208.29 331.25,206.25 C333.00,204.21 332.67,203.49 335.00,202.50 C337.33,201.51 338.33,201.53 341.25,202.00 C344.17,202.47 344.58,203.51 347.50,204.50 C350.42,205.49 351.12,207.01 353.75,206.25 C356.38,205.49 356.42,203.00 358.75,201.25 C361.08,199.50 361.42,199.04 363.75,198.75 C366.08,198.46 366.12,198.25 368.75,200.00 C371.38,201.75 372.38,204.21 375.00,206.25 C377.62,208.29 378.13,210.21 380.00,208.75 C381.87,207.29 381.72,207.29 383.00,200.00 C384.28,192.71 384.16,184.21 385.50,177.50 C386.84,170.79 387.12,172.12 388.75,171.25 C390.38,170.38 390.46,172.41 392.50,173.75 C394.54,175.09 395.46,177.00 397.50,177.00 C399.54,177.00 399.62,176.84 401.25,173.75 C402.88,170.66 403.04,166.67 404.50,163.75 C405.96,160.83 406.22,160.67 407.50,161.25 C408.78,161.83 408.54,162.75 410.00,166.25 C411.46,169.75 411.71,172.46 413.75,176.25 C415.79,180.04 416.42,179.88 418.75,182.50 C421.08,185.12 421.71,184.58 423.75,187.50 C425.79,190.42 425.46,191.21 427.50,195.00 C429.54,198.79 430.17,200.54 432.50,203.75 C434.83,206.96 434.88,207.41 437.50,208.75 C440.12,210.09 440.83,210.08 443.75,209.50 C446.67,208.92 447.38,207.88 450.00,206.25 C452.62,204.62 452.67,203.67 455.00,202.50 C457.33,201.33 457.38,201.13 460.00,201.25 C462.62,201.37 462.75,202.71 466.25,203.00 C469.75,203.29 471.79,202.62 475.00,202.50 C478.21,202.38 477.38,201.33 480.00,202.50 C482.62,203.67 483.33,204.58 486.25,207.50 C489.17,210.42 490.17,210.92 492.50,215.00 C494.83,219.08 495.02,220.33 496.25,225.00 C497.48,229.67 497.17,227.42 497.75,235.00 C498.33,242.58 497.93,250.21 498.75,257.50 C499.57,264.79 499.79,263.80 501.25,266.25 C502.71,268.70 502.38,268.58 505.00,268.00 C507.62,267.42 509.00,265.50 512.50,263.75 C516.00,262.00 516.50,261.38 520.00,260.50 C523.50,259.62 524.00,259.82 527.50,260.00 C531.00,260.18 532.08,260.38 535.00,261.25 C537.92,262.12 537.67,261.82 540.00,263.75 C542.33,265.68 542.67,268.04 545.00,269.50 C547.33,270.96 547.38,271.34 550.00,270.00 C552.62,268.66 553.62,267.25 556.25,263.75 C558.88,260.25 559.21,257.74 561.25,255.00 C563.29,252.26 563.25,252.29 565.00,252.00 C566.75,251.71 566.71,251.30 568.75,253.75 C570.79,256.20 571.12,257.54 573.75,262.50 C576.38,267.46 577.38,270.92 580.00,275.00 C582.62,279.08 582.67,278.25 585.00,280.00 C587.33,281.75 587.96,280.17 590.00,282.50 C592.04,284.83 592.12,286.21 593.75,290.00 C595.38,293.79 595.54,296.12 597.00,298.75 C598.46,301.38 598.42,301.83 600.00,301.25 C601.58,300.67 601.71,298.29 603.75,296.25 C605.79,294.21 605.83,293.67 608.75,292.50 C611.67,291.33 613.33,292.12 616.25,291.25 C619.17,290.38 619.50,290.91 621.25,288.75 C623.00,286.59 622.29,284.04 623.75,282.00 C625.21,279.96 624.88,279.71 627.50,280.00 C630.12,280.29 631.50,282.08 635.00,283.25 C638.50,284.42 638.42,284.88 642.50,285.00 C646.58,285.12 648.42,283.28 652.50,283.75 C656.58,284.22 656.50,286.24 660.00,287.00 C663.50,287.76 664.58,287.76 667.50,287.00 C670.42,286.24 670.46,287.13 672.50,283.75 C674.54,280.37 674.67,275.82 676.25,272.50 C677.83,269.18 677.91,269.50 679.25,269.50 C680.59,269.50 680.66,270.34 682.00,272.50 C683.34,274.66 683.13,277.00 685.00,278.75 C686.87,280.50 687.08,280.41 690.00,280.00 C692.92,279.59 694.00,278.17 697.50,277.00 C701.00,275.83 702.08,275.00 705.00,275.00 C707.92,275.00 707.67,274.96 710.00,277.00 C712.33,279.04 712.67,280.83 715.00,283.75 C717.33,286.67 717.96,288.04 720.00,289.50 C722.04,290.96 722.00,291.05 723.75,290.00 C725.50,288.95 725.75,287.45 727.50,285.00 C729.25,282.55 728.92,281.07 731.25,279.50 C733.58,277.93 734.88,279.30 737.50,278.25 C740.12,277.20 740.46,278.68 742.50,275.00 C744.54,271.32 744.50,267.75 746.25,262.50 C748.00,257.25 747.67,256.29 750.00,252.50 C752.33,248.71 753.62,249.75 756.25,246.25 C758.88,242.75 759.21,241.29 761.25,237.50 C763.29,233.71 762.96,231.87 765.00,230.00 C767.04,228.13 767.67,229.21 770.00,229.50 C772.33,229.79 772.96,232.01 775.00,231.25 C777.04,230.49 777.00,229.46 778.75,226.25 C780.50,223.04 780.92,219.83 782.50,217.50 C784.08,215.17 784.04,215.08 785.50,216.25 C786.96,217.42 787.12,219.41 788.75,222.50 C790.38,225.59 790.81,228.22 792.50,229.50 C794.19,230.78 793.84,230.51 796.00,228.00 C798.16,225.49 798.95,220.32 801.75,218.75 C804.55,217.18 805.38,219.79 808.00,221.25 C810.62,222.71 810.20,222.96 813.00,225.00 C815.80,227.04 813.70,227.67 820.00,230.00 C826.30,232.33 828.33,232.67 840.00,235.00 C851.67,237.33 856.00,239.30 870.00,240.00 C884.00,240.70 886.00,237.07 900.00,238.00 C914.00,238.93 917.17,241.20 930.00,244.00 C942.83,246.80 947.07,248.37 955.00,250.00 C962.93,251.63 961.20,251.70 964.00,251.00 C966.80,250.30 965.67,248.35 967.00,247.00 C968.33,245.65 968.30,245.43 969.70,245.20 C971.10,244.97 970.83,245.28 973.00,246.00 C975.17,246.72 977.60,247.76 979.00,248.30" fill="none" stroke="#c9a870" stroke-width="1.3" stroke-linejoin="round"/>
  <path d="M72.60,312.00 C74.33,312.99 77.11,314.50 80.00,316.25 C82.89,318.00 82.67,318.33 85.00,319.50 C87.33,320.67 87.67,321.25 90.00,321.25 C92.33,321.25 92.67,320.49 95.00,319.50 C97.33,318.51 97.38,318.05 100.00,317.00 C102.62,315.95 103.62,316.63 106.25,315.00 C108.88,313.37 108.92,313.50 111.25,310.00 C113.58,306.50 113.62,304.38 116.25,300.00 C118.88,295.62 119.29,295.04 122.50,291.25 C125.71,287.46 127.08,286.96 130.00,283.75 C132.92,280.54 132.38,281.00 135.00,277.50 C137.62,274.00 138.33,272.54 141.25,268.75 C144.17,264.96 144.88,263.29 147.50,261.25 C150.12,259.21 149.88,259.71 152.50,260.00 C155.12,260.29 155.83,261.04 158.75,262.50 C161.67,263.96 162.38,265.08 165.00,266.25 C167.62,267.42 167.38,268.08 170.00,267.50 C172.62,266.92 173.33,265.03 176.25,263.75 C179.17,262.47 179.58,262.88 182.50,262.00 C185.42,261.12 185.54,261.34 188.75,260.00 C191.96,258.66 192.75,258.00 196.25,256.25 C199.75,254.50 200.83,254.83 203.75,252.50 C206.67,250.17 206.59,248.58 208.75,246.25 C210.91,243.92 210.96,242.68 213.00,242.50 C215.04,242.32 215.28,244.10 217.50,245.50 C219.72,246.90 220.63,248.62 222.50,248.50 C224.37,248.38 224.33,246.98 225.50,245.00 C226.67,243.02 225.87,243.79 227.50,240.00 C229.13,236.21 229.58,233.71 232.50,228.75 C235.42,223.79 236.50,224.29 240.00,218.75 C243.50,213.21 244.00,212.29 247.50,205.00 C251.00,197.71 251.66,193.92 255.00,187.50 C258.34,181.08 259.28,181.68 261.80,177.50 C264.32,173.32 264.41,173.05 265.80,169.60 C267.19,166.15 266.84,166.62 267.75,162.70 C268.66,158.78 268.89,156.93 269.70,152.80 C270.50,148.67 270.50,147.87 271.20,145.00 C271.90,142.13 272.00,141.90 272.70,140.50 C273.40,139.10 273.50,138.93 274.20,139.00 C274.90,139.07 275.02,139.40 275.70,140.80 C276.38,142.20 276.19,142.67 277.10,145.00 C278.01,147.33 278.55,148.51 279.60,150.80 C280.65,153.09 280.57,153.52 281.60,154.80 C282.63,156.08 282.62,156.42 284.00,156.30 C285.38,156.18 285.89,155.35 287.50,154.30 C289.11,153.25 289.64,152.57 290.90,151.80 C292.16,151.03 291.97,150.77 292.90,151.00 C293.83,151.23 294.13,150.77 294.90,152.80 C295.67,154.83 295.69,155.78 296.20,159.70 C296.71,163.62 296.61,165.00 297.10,169.60 C297.59,174.20 297.79,176.04 298.30,179.40 C298.81,182.76 298.67,181.92 299.30,184.00 C299.93,186.08 299.96,187.48 301.00,188.30 C302.04,189.12 302.35,188.85 303.75,187.50 C305.15,186.15 305.54,184.07 307.00,182.50 C308.46,180.93 308.60,180.17 310.00,180.75 C311.40,181.33 311.54,181.38 313.00,185.00 C314.46,188.62 314.32,191.58 316.25,196.25 C318.18,200.92 318.62,201.50 321.25,205.00 C323.88,208.50 325.17,210.96 327.50,211.25 C329.83,211.54 329.50,208.29 331.25,206.25 C333.00,204.21 332.67,203.49 335.00,202.50 C337.33,201.51 338.33,201.53 341.25,202.00 C344.17,202.47 344.58,203.51 347.50,204.50 C350.42,205.49 351.12,207.01 353.75,206.25 C356.38,205.49 356.42,203.00 358.75,201.25 C361.08,199.50 361.42,199.04 363.75,198.75 C366.08,198.46 366.12,198.25 368.75,200.00 C371.38,201.75 372.38,204.21 375.00,206.25 C377.62,208.29 378.13,210.21 380.00,208.75 C381.87,207.29 381.72,207.29 383.00,200.00 C384.28,192.71 384.16,184.21 385.50,177.50 C386.84,170.79 387.12,172.12 388.75,171.25 C390.38,170.38 390.46,172.41 392.50,173.75 C394.54,175.09 395.46,177.00 397.50,177.00 C399.54,177.00 399.62,176.84 401.25,173.75 C402.88,170.66 403.04,166.67 404.50,163.75 C405.96,160.83 406.22,160.67 407.50,161.25 C408.78,161.83 408.54,162.75 410.00,166.25 C411.46,169.75 411.71,172.46 413.75,176.25 C415.79,180.04 416.42,179.88 418.75,182.50 C421.08,185.12 421.71,184.58 423.75,187.50 C425.79,190.42 425.46,191.21 427.50,195.00 C429.54,198.79 430.17,200.54 432.50,203.75 C434.83,206.96 434.88,207.41 437.50,208.75 C440.12,210.09 440.83,210.08 443.75,209.50 C446.67,208.92 447.38,207.88 450.00,206.25 C452.62,204.62 452.67,203.67 455.00,202.50 C457.33,201.33 457.38,201.13 460.00,201.25 C462.62,201.37 462.75,202.71 466.25,203.00 C469.75,203.29 471.79,202.62 475.00,202.50 C478.21,202.38 477.38,201.33 480.00,202.50 C482.62,203.67 483.33,204.58 486.25,207.50 C489.17,210.42 490.17,210.92 492.50,215.00 C494.83,219.08 495.02,220.33 496.25,225.00 C497.48,229.67 497.17,227.42 497.75,235.00 C498.33,242.58 497.93,250.21 498.75,257.50 C499.57,264.79 499.79,263.80 501.25,266.25 C502.71,268.70 502.38,268.58 505.00,268.00 C507.62,267.42 509.00,265.50 512.50,263.75 C516.00,262.00 516.50,261.38 520.00,260.50 C523.50,259.62 524.00,259.82 527.50,260.00 C531.00,260.18 532.08,260.38 535.00,261.25 C537.92,262.12 537.67,261.82 540.00,263.75 C542.33,265.68 542.67,268.04 545.00,269.50 C547.33,270.96 547.38,271.34 550.00,270.00 C552.62,268.66 553.62,267.25 556.25,263.75 C558.88,260.25 559.21,257.74 561.25,255.00 C563.29,252.26 563.25,252.29 565.00,252.00 C566.75,251.71 566.71,251.30 568.75,253.75 C570.79,256.20 571.12,257.54 573.75,262.50 C576.38,267.46 577.38,270.92 580.00,275.00 C582.62,279.08 582.67,278.25 585.00,280.00 C587.33,281.75 587.96,280.17 590.00,282.50 C592.04,284.83 592.12,286.21 593.75,290.00 C595.38,293.79 595.54,296.12 597.00,298.75 C598.46,301.38 598.42,301.83 600.00,301.25 C601.58,300.67 601.71,298.29 603.75,296.25 C605.79,294.21 605.83,293.67 608.75,292.50 C611.67,291.33 613.33,292.12 616.25,291.25 C619.17,290.38 619.50,290.91 621.25,288.75 C623.00,286.59 622.29,284.04 623.75,282.00 C625.21,279.96 624.88,279.71 627.50,280.00 C630.12,280.29 631.50,282.08 635.00,283.25 C638.50,284.42 638.42,284.88 642.50,285.00 C646.58,285.12 648.42,283.28 652.50,283.75 C656.58,284.22 656.50,286.24 660.00,287.00 C663.50,287.76 664.58,287.76 667.50,287.00 C670.42,286.24 670.46,287.13 672.50,283.75 C674.54,280.37 674.67,275.82 676.25,272.50 C677.83,269.18 677.91,269.50 679.25,269.50 C680.59,269.50 680.66,270.34 682.00,272.50 C683.34,274.66 683.13,277.00 685.00,278.75 C686.87,280.50 687.08,280.41 690.00,280.00 C692.92,279.59 694.00,278.17 697.50,277.00 C701.00,275.83 702.08,275.00 705.00,275.00 C707.92,275.00 707.67,274.96 710.00,277.00 C712.33,279.04 712.67,280.83 715.00,283.75 C717.33,286.67 717.96,288.04 720.00,289.50 C722.04,290.96 722.00,291.05 723.75,290.00 C725.50,288.95 725.75,287.45 727.50,285.00 C729.25,282.55 728.92,281.07 731.25,279.50 C733.58,277.93 734.88,279.30 737.50,278.25 C740.12,277.20 740.46,278.68 742.50,275.00 C744.54,271.32 744.50,267.75 746.25,262.50 C748.00,257.25 747.67,256.29 750.00,252.50 C752.33,248.71 753.62,249.75 756.25,246.25 C758.88,242.75 759.21,241.29 761.25,237.50 C763.29,233.71 762.96,231.87 765.00,230.00 C767.04,228.13 767.67,229.21 770.00,229.50 C772.33,229.79 772.96,232.01 775.00,231.25 C777.04,230.49 777.00,229.46 778.75,226.25 C780.50,223.04 780.92,219.83 782.50,217.50 C784.08,215.17 784.04,215.08 785.50,216.25 C786.96,217.42 787.12,219.41 788.75,222.50 C790.38,225.59 790.81,228.22 792.50,229.50 C794.19,230.78 793.84,230.51 796.00,228.00 C798.16,225.49 798.95,220.32 801.75,218.75 C804.55,217.18 805.38,219.79 808.00,221.25 C810.62,222.71 810.20,222.96 813.00,225.00 C815.80,227.04 813.70,227.67 820.00,230.00 C826.30,232.33 828.33,232.67 840.00,235.00 C851.67,237.33 856.00,239.30 870.00,240.00 C884.00,240.70 886.00,237.07 900.00,238.00 C914.00,238.93 917.17,241.20 930.00,244.00 C942.83,246.80 947.07,248.37 955.00,250.00 C962.93,251.63 961.20,251.70 964.00,251.00 C966.80,250.30 965.67,248.35 967.00,247.00 C968.33,245.65 968.30,245.43 969.70,245.20 C971.10,244.97 970.83,245.28 973.00,246.00 C975.17,246.72 977.60,247.76 979.00,248.30" fill="none" stroke="#a3dc98" stroke-width="1.1" stroke-linejoin="round" clip-path="url(#carea)"/>
  <!-- crosshair -->
  <line x1="68" y1="190.1" x2="978" y2="190.1" stroke="#ffffff" stroke-opacity="0.64" stroke-width="1.15" stroke-dasharray="2.9 1.55"/>
  <line x1="978" y1="74" x2="978" y2="367.5" stroke="#8d8f94" stroke-width="1.3" stroke-dasharray="2.8 1.55"/>
  <circle cx="978.1" cy="187.9" r="3.3" fill="#eefaf6" stroke="#9fe6d0" stroke-width="1"/>
  <circle cx="978.2" cy="248" r="3.3" fill="#fcf7d2" stroke="#eee0a0" stroke-width="1"/>
  <!-- axis pointer labels -->
  <rect x="39.5" y="181" width="28" height="18.5" rx="3" fill="#020203"/>
  <rect x="984.5" y="180.5" width="27" height="17" rx="3" fill="#020203"/>
  <!-- x labels -->
  <text x="61.70" y="381.10" font-size="9.5" font-weight="400" fill="#babcc1" textLength="22.00" lengthAdjust="spacingAndGlyphs" stroke="#babcc1" stroke-width="0.3" stroke-linejoin="round">6 Sep</text>
  <text x="96.86" y="381.10" font-size="9.5" font-weight="400" fill="#babcc1" textLength="22.00" lengthAdjust="spacingAndGlyphs" stroke="#babcc1" stroke-width="0.3" stroke-linejoin="round">7 Sep</text>
  <text x="132.02" y="381.10" font-size="9.5" font-weight="400" fill="#babcc1" textLength="22.00" lengthAdjust="spacingAndGlyphs" stroke="#babcc1" stroke-width="0.3" stroke-linejoin="round">8 Sep</text>
  <text x="165.03" y="381.10" font-size="9.5" font-weight="400" fill="#babcc1" textLength="26.30" lengthAdjust="spacingAndGlyphs" stroke="#babcc1" stroke-width="0.3" stroke-linejoin="round">10 Sep</text>
  <text x="200.19" y="381.10" font-size="9.5" font-weight="400" fill="#babcc1" textLength="26.30" lengthAdjust="spacingAndGlyphs" stroke="#babcc1" stroke-width="0.3" stroke-linejoin="round">11 Sep</text>
  <text x="235.35" y="381.10" font-size="9.5" font-weight="400" fill="#babcc1" textLength="26.30" lengthAdjust="spacingAndGlyphs" stroke="#babcc1" stroke-width="0.3" stroke-linejoin="round">12 Sep</text>
  <text x="270.51" y="381.10" font-size="9.5" font-weight="400" fill="#babcc1" textLength="26.30" lengthAdjust="spacingAndGlyphs" stroke="#babcc1" stroke-width="0.3" stroke-linejoin="round">14 Sep</text>
  <text x="305.67" y="381.10" font-size="9.5" font-weight="400" fill="#babcc1" textLength="26.30" lengthAdjust="spacingAndGlyphs" stroke="#babcc1" stroke-width="0.3" stroke-linejoin="round">15 Sep</text>
  <text x="340.83" y="381.10" font-size="9.5" font-weight="400" fill="#babcc1" textLength="26.30" lengthAdjust="spacingAndGlyphs" stroke="#babcc1" stroke-width="0.3" stroke-linejoin="round">16 Sep</text>
  <text x="375.99" y="381.10" font-size="9.5" font-weight="400" fill="#babcc1" textLength="26.30" lengthAdjust="spacingAndGlyphs" stroke="#babcc1" stroke-width="0.3" stroke-linejoin="round">18 Sep</text>
  <text x="411.15" y="381.10" font-size="9.5" font-weight="400" fill="#babcc1" textLength="26.30" lengthAdjust="spacingAndGlyphs" stroke="#babcc1" stroke-width="0.3" stroke-linejoin="round">19 Sep</text>
  <text x="446.31" y="381.10" font-size="9.5" font-weight="400" fill="#babcc1" textLength="26.30" lengthAdjust="spacingAndGlyphs" stroke="#babcc1" stroke-width="0.3" stroke-linejoin="round">20 Sep</text>
  <text x="481.47" y="381.10" font-size="9.5" font-weight="400" fill="#babcc1" textLength="26.30" lengthAdjust="spacingAndGlyphs" stroke="#babcc1" stroke-width="0.3" stroke-linejoin="round">22 Sep</text>
  <text x="516.63" y="381.10" font-size="9.5" font-weight="400" fill="#babcc1" textLength="26.30" lengthAdjust="spacingAndGlyphs" stroke="#babcc1" stroke-width="0.3" stroke-linejoin="round">23 Sep</text>
  <text x="551.79" y="381.10" font-size="9.5" font-weight="400" fill="#babcc1" textLength="26.30" lengthAdjust="spacingAndGlyphs" stroke="#babcc1" stroke-width="0.3" stroke-linejoin="round">24 Sep</text>
  <text x="586.95" y="381.10" font-size="9.5" font-weight="400" fill="#babcc1" textLength="26.30" lengthAdjust="spacingAndGlyphs" stroke="#babcc1" stroke-width="0.3" stroke-linejoin="round">26 Sep</text>
  <text x="622.11" y="381.10" font-size="9.5" font-weight="400" fill="#babcc1" textLength="26.30" lengthAdjust="spacingAndGlyphs" stroke="#babcc1" stroke-width="0.3" stroke-linejoin="round">27 Sep</text>
  <text x="657.27" y="381.10" font-size="9.5" font-weight="400" fill="#babcc1" textLength="26.30" lengthAdjust="spacingAndGlyphs" stroke="#babcc1" stroke-width="0.3" stroke-linejoin="round">28 Sep</text>
  <text x="692.43" y="381.10" font-size="9.5" font-weight="400" fill="#babcc1" textLength="26.30" lengthAdjust="spacingAndGlyphs" stroke="#babcc1" stroke-width="0.3" stroke-linejoin="round">30 Sep</text>
  <text x="730.64" y="381.10" font-size="9.5" font-weight="400" fill="#babcc1" textLength="20.20" lengthAdjust="spacingAndGlyphs" stroke="#babcc1" stroke-width="0.3" stroke-linejoin="round">1 Oct</text>
  <text x="765.80" y="381.10" font-size="9.5" font-weight="400" fill="#babcc1" textLength="20.20" lengthAdjust="spacingAndGlyphs" stroke="#babcc1" stroke-width="0.3" stroke-linejoin="round">2 Oct</text>
  <text x="800.96" y="381.10" font-size="9.5" font-weight="400" fill="#babcc1" textLength="20.20" lengthAdjust="spacingAndGlyphs" stroke="#babcc1" stroke-width="0.3" stroke-linejoin="round">4 Oct</text>
  <text x="836.12" y="381.10" font-size="9.5" font-weight="400" fill="#babcc1" textLength="20.20" lengthAdjust="spacingAndGlyphs" stroke="#babcc1" stroke-width="0.3" stroke-linejoin="round">5 Oct</text>
  <text x="871.28" y="381.10" font-size="9.5" font-weight="400" fill="#babcc1" textLength="20.20" lengthAdjust="spacingAndGlyphs" stroke="#babcc1" stroke-width="0.3" stroke-linejoin="round">6 Oct</text>
  <text x="906.44" y="381.10" font-size="9.5" font-weight="400" fill="#babcc1" textLength="20.20" lengthAdjust="spacingAndGlyphs" stroke="#babcc1" stroke-width="0.3" stroke-linejoin="round">8 Oct</text>
  <rect x="937.3" y="371.4" width="82" height="13.2" rx="2" fill="#020203"/>
  <text x="44.60" y="193.30" font-size="9.5" font-weight="700" fill="#f2f2f2" textLength="15.40" lengthAdjust="spacingAndGlyphs">0.01</text>
  <text x="990.00" y="192.20" font-size="9.5" font-weight="700" fill="#f2f2f2" textLength="15.60" lengthAdjust="spacingAndGlyphs">0.27</text>
  <text x="942.80" y="381.20" font-size="9.5" font-weight="700" fill="#f4f4f4" textLength="71.00" lengthAdjust="spacingAndGlyphs">10 Oct 2025, 11:00</text>
  <!-- slider -->
  <path d="M70.00,415.50 L85.00,417.00 L105.00,417.00 L112.50,415.50 L118.75,412.00 L123.75,413.00 L128.75,411.75 L135.00,411.25 L142.50,412.50 L150.00,412.00 L157.50,414.00 L162.50,412.50 L170.00,412.50 L180.00,413.75 L187.50,414.50 L192.50,413.00 L200.00,408.75 L205.00,405.00 L209.25,399.50 L212.50,403.75 L216.25,401.25 L220.00,403.75 L223.75,401.25 L228.75,403.00 L233.75,405.00 L237.50,403.25 L243.75,406.25 L248.75,402.00 L252.50,405.00 L260.00,403.75 L270.00,400.50 L275.00,403.75 L282.50,405.50 L287.50,403.75 L295.00,403.75 L300.00,405.00 L303.75,404.50 L311.25,410.50 L322.50,410.50 L332.50,409.50 L338.75,411.25 L342.00,413.75 L347.50,411.75 L360.00,411.25 L368.75,408.25 L375.00,411.25 L380.00,413.25 L392.50,413.00 L405.00,414.25 L415.00,414.50 L422.50,417.00 L426.75,418.75 L432.50,416.25 L442.50,415.50 L452.50,416.25 L465.00,415.00 L473.75,416.25 L480.00,413.75 L492.50,415.00 L500.00,413.75 L507.50,414.25 L515.00,412.50 L521.25,408.75 L527.50,409.50 L536.25,408.00 L541.25,410.00 L547.50,408.00 L550.00,406.25 L557.50,401.25 L562.50,399.50 L567.50,397.50 L572.50,393.75 L577.50,396.25 L581.25,397.00 L587.50,402.50 L593.75,404.25 L600.00,402.00 L607.50,401.75 L613.75,404.25 L622.50,405.00 L630.00,408.00 L636.25,410.50 L642.50,408.75 L647.50,407.50 L651.25,409.25 L657.50,407.50 L663.75,404.25 L670.00,401.75 L676.25,403.00 L682.50,404.25 L690.00,400.50 L693.75,400.75 L697.50,404.25 L705.00,403.75 L711.25,401.75 L716.25,404.50 L723.75,406.75 L730.00,405.00 L733.75,405.75 L738.75,401.75 L747.50,403.00 L753.75,407.00 L761.25,405.00 L767.50,404.50 L772.50,406.25 L782.50,405.50 L790.00,406.25 L800.50,405.00 L809.25,406.25 L818.00,403.75 L825.50,402.00 L838.00,400.00 L843.00,396.25 L848.50,391.25 L853.00,393.75 L859.25,397.00 L868.00,396.25 L873.00,393.00 L879.25,396.25 L890.50,397.00 L894.25,401.25 L904.25,401.25 L911.75,404.50 L923.00,403.25 L933.00,403.25 L938.00,402.50 L945.50,398.00 L953.00,398.00 L956.75,400.00 L959.25,397.50 L963.00,398.75 L966.75,396.25 L971.75,399.50 L975.50,398.75 L980.50,400.00 L984.25,401.25 L984.25,427 L70.00,427 Z" fill="#0c1324"/>
  <path d="M70.00,415.50 L85.00,417.00 L105.00,417.00 L112.50,415.50 L118.75,412.00 L123.75,413.00 L128.75,411.75 L135.00,411.25 L142.50,412.50 L150.00,412.00 L157.50,414.00 L162.50,412.50 L170.00,412.50 L180.00,413.75 L187.50,414.50 L192.50,413.00 L200.00,408.75 L205.00,405.00 L209.25,399.50 L212.50,403.75 L216.25,401.25 L220.00,403.75 L223.75,401.25 L228.75,403.00 L233.75,405.00 L237.50,403.25 L243.75,406.25 L248.75,402.00 L252.50,405.00 L260.00,403.75 L270.00,400.50 L275.00,403.75 L282.50,405.50 L287.50,403.75 L295.00,403.75 L300.00,405.00 L303.75,404.50 L311.25,410.50 L322.50,410.50 L332.50,409.50 L338.75,411.25 L342.00,413.75 L347.50,411.75 L360.00,411.25 L368.75,408.25 L375.00,411.25 L380.00,413.25 L392.50,413.00 L405.00,414.25 L415.00,414.50 L422.50,417.00 L426.75,418.75 L432.50,416.25 L442.50,415.50 L452.50,416.25 L465.00,415.00 L473.75,416.25 L480.00,413.75 L492.50,415.00 L500.00,413.75 L507.50,414.25 L515.00,412.50 L521.25,408.75 L527.50,409.50 L536.25,408.00 L541.25,410.00 L547.50,408.00 L550.00,406.25 L557.50,401.25 L562.50,399.50 L567.50,397.50 L572.50,393.75 L577.50,396.25 L581.25,397.00 L587.50,402.50 L593.75,404.25 L600.00,402.00 L607.50,401.75 L613.75,404.25 L622.50,405.00 L630.00,408.00 L636.25,410.50 L642.50,408.75 L647.50,407.50 L651.25,409.25 L657.50,407.50 L663.75,404.25 L670.00,401.75 L676.25,403.00 L682.50,404.25 L690.00,400.50 L693.75,400.75 L697.50,404.25 L705.00,403.75 L711.25,401.75 L716.25,404.50 L723.75,406.75 L730.00,405.00 L733.75,405.75 L738.75,401.75 L747.50,403.00 L753.75,407.00 L761.25,405.00 L767.50,404.50 L772.50,406.25 L782.50,405.50 L790.00,406.25 L800.50,405.00 L809.25,406.25 L818.00,403.75 L825.50,402.00 L838.00,400.00 L843.00,396.25 L848.50,391.25 L853.00,393.75 L859.25,397.00 L868.00,396.25 L873.00,393.00 L879.25,396.25 L890.50,397.00 L894.25,401.25 L904.25,401.25 L911.75,404.50 L923.00,403.25 L933.00,403.25 L938.00,402.50 L945.50,398.00 L953.00,398.00 L956.75,400.00 L959.25,397.50 L963.00,398.75 L966.75,396.25 L971.75,399.50 L975.50,398.75 L980.50,400.00 L984.25,401.25" fill="none" stroke="#1c2a4d" stroke-width="1"/>
  <rect x="809.25" y="384.4" width="175.2" height="42.6" fill="#0f162a"/>
  <g clip-path="url(#cwin)">
    <path d="M70.00,415.50 L85.00,417.00 L105.00,417.00 L112.50,415.50 L118.75,412.00 L123.75,413.00 L128.75,411.75 L135.00,411.25 L142.50,412.50 L150.00,412.00 L157.50,414.00 L162.50,412.50 L170.00,412.50 L180.00,413.75 L187.50,414.50 L192.50,413.00 L200.00,408.75 L205.00,405.00 L209.25,399.50 L212.50,403.75 L216.25,401.25 L220.00,403.75 L223.75,401.25 L228.75,403.00 L233.75,405.00 L237.50,403.25 L243.75,406.25 L248.75,402.00 L252.50,405.00 L260.00,403.75 L270.00,400.50 L275.00,403.75 L282.50,405.50 L287.50,403.75 L295.00,403.75 L300.00,405.00 L303.75,404.50 L311.25,410.50 L322.50,410.50 L332.50,409.50 L338.75,411.25 L342.00,413.75 L347.50,411.75 L360.00,411.25 L368.75,408.25 L375.00,411.25 L380.00,413.25 L392.50,413.00 L405.00,414.25 L415.00,414.50 L422.50,417.00 L426.75,418.75 L432.50,416.25 L442.50,415.50 L452.50,416.25 L465.00,415.00 L473.75,416.25 L480.00,413.75 L492.50,415.00 L500.00,413.75 L507.50,414.25 L515.00,412.50 L521.25,408.75 L527.50,409.50 L536.25,408.00 L541.25,410.00 L547.50,408.00 L550.00,406.25 L557.50,401.25 L562.50,399.50 L567.50,397.50 L572.50,393.75 L577.50,396.25 L581.25,397.00 L587.50,402.50 L593.75,404.25 L600.00,402.00 L607.50,401.75 L613.75,404.25 L622.50,405.00 L630.00,408.00 L636.25,410.50 L642.50,408.75 L647.50,407.50 L651.25,409.25 L657.50,407.50 L663.75,404.25 L670.00,401.75 L676.25,403.00 L682.50,404.25 L690.00,400.50 L693.75,400.75 L697.50,404.25 L705.00,403.75 L711.25,401.75 L716.25,404.50 L723.75,406.75 L730.00,405.00 L733.75,405.75 L738.75,401.75 L747.50,403.00 L753.75,407.00 L761.25,405.00 L767.50,404.50 L772.50,406.25 L782.50,405.50 L790.00,406.25 L800.50,405.00 L809.25,406.25 L818.00,403.75 L825.50,402.00 L838.00,400.00 L843.00,396.25 L848.50,391.25 L853.00,393.75 L859.25,397.00 L868.00,396.25 L873.00,393.00 L879.25,396.25 L890.50,397.00 L894.25,401.25 L904.25,401.25 L911.75,404.50 L923.00,403.25 L933.00,403.25 L938.00,402.50 L945.50,398.00 L953.00,398.00 L956.75,400.00 L959.25,397.50 L963.00,398.75 L966.75,396.25 L971.75,399.50 L975.50,398.75 L980.50,400.00 L984.25,401.25 L984.25,427 L70.00,427 Z" fill="#212b4a"/>
    <path d="M70.00,415.50 L85.00,417.00 L105.00,417.00 L112.50,415.50 L118.75,412.00 L123.75,413.00 L128.75,411.75 L135.00,411.25 L142.50,412.50 L150.00,412.00 L157.50,414.00 L162.50,412.50 L170.00,412.50 L180.00,413.75 L187.50,414.50 L192.50,413.00 L200.00,408.75 L205.00,405.00 L209.25,399.50 L212.50,403.75 L216.25,401.25 L220.00,403.75 L223.75,401.25 L228.75,403.00 L233.75,405.00 L237.50,403.25 L243.75,406.25 L248.75,402.00 L252.50,405.00 L260.00,403.75 L270.00,400.50 L275.00,403.75 L282.50,405.50 L287.50,403.75 L295.00,403.75 L300.00,405.00 L303.75,404.50 L311.25,410.50 L322.50,410.50 L332.50,409.50 L338.75,411.25 L342.00,413.75 L347.50,411.75 L360.00,411.25 L368.75,408.25 L375.00,411.25 L380.00,413.25 L392.50,413.00 L405.00,414.25 L415.00,414.50 L422.50,417.00 L426.75,418.75 L432.50,416.25 L442.50,415.50 L452.50,416.25 L465.00,415.00 L473.75,416.25 L480.00,413.75 L492.50,415.00 L500.00,413.75 L507.50,414.25 L515.00,412.50 L521.25,408.75 L527.50,409.50 L536.25,408.00 L541.25,410.00 L547.50,408.00 L550.00,406.25 L557.50,401.25 L562.50,399.50 L567.50,397.50 L572.50,393.75 L577.50,396.25 L581.25,397.00 L587.50,402.50 L593.75,404.25 L600.00,402.00 L607.50,401.75 L613.75,404.25 L622.50,405.00 L630.00,408.00 L636.25,410.50 L642.50,408.75 L647.50,407.50 L651.25,409.25 L657.50,407.50 L663.75,404.25 L670.00,401.75 L676.25,403.00 L682.50,404.25 L690.00,400.50 L693.75,400.75 L697.50,404.25 L705.00,403.75 L711.25,401.75 L716.25,404.50 L723.75,406.75 L730.00,405.00 L733.75,405.75 L738.75,401.75 L747.50,403.00 L753.75,407.00 L761.25,405.00 L767.50,404.50 L772.50,406.25 L782.50,405.50 L790.00,406.25 L800.50,405.00 L809.25,406.25 L818.00,403.75 L825.50,402.00 L838.00,400.00 L843.00,396.25 L848.50,391.25 L853.00,393.75 L859.25,397.00 L868.00,396.25 L873.00,393.00 L879.25,396.25 L890.50,397.00 L894.25,401.25 L904.25,401.25 L911.75,404.50 L923.00,403.25 L933.00,403.25 L938.00,402.50 L945.50,398.00 L953.00,398.00 L956.75,400.00 L959.25,397.50 L963.00,398.75 L966.75,396.25 L971.75,399.50 L975.50,398.75 L980.50,400.00 L984.25,401.25" fill="none" stroke="#33446f" stroke-width="1"/>
  </g>
  <g>
    <rect x="804.7" y="400" width="10" height="11.4" rx="2.5" fill="#30333d"/>
    <rect x="808.1" y="403.2" width="0.9" height="5" fill="#9a9da5"/>
    <rect x="810.3" y="403.2" width="0.9" height="5" fill="#9a9da5"/>
    <rect x="979.6" y="400" width="10" height="11.4" rx="2.5" fill="#30333d"/>
    <rect x="983" y="403.2" width="0.9" height="5" fill="#9a9da5"/>
    <rect x="985.2" y="403.2" width="0.9" height="5" fill="#9a9da5"/>
  </g>
  <!-- watermark -->
  <g fill="#adadb1">
    <ellipse cx="911.2" cy="346" rx="5.7" ry="4.7"/>
    <ellipse cx="904.5" cy="344.3" rx="1.9" ry="1.5"/>
    <ellipse cx="917.9" cy="344.3" rx="1.9" ry="1.5"/>
    <path d="M906.6,340.1 L909.4,342 L906.9,343.2 Z M915.8,340.1 L913,342 L915.5,343.2 Z"/>
    <rect x="906.3" y="349.5" width="9.8" height="6.6" rx="2"/>
    <rect x="907.2" y="353.5" width="3.6" height="5.2" rx="1.3"/>
    <rect x="911.6" y="353.5" width="3.6" height="5.2" rx="1.3"/>
  </g>
  <text x="923.70" y="353.40" font-size="12.8" font-weight="700" fill="#c2c2c5" textLength="52.70" lengthAdjust="spacingAndGlyphs">coinglass</text>
  <!-- tooltip -->
  <rect x="812" y="204" width="153" height="80" rx="9" fill="#03060a" opacity="0.6" filter="url(#sh)"/>
  <rect x="813.5" y="205" width="150.2" height="76.7" rx="6.5" fill="#050608"/>
  <circle cx="827.6" cy="247.6" r="3" fill="#e3b767" stroke="#f5e7c4" stroke-width="1"/>
  <circle cx="827.6" cy="263.4" r="3" fill="#7fcfbd" stroke="#dcf5ee" stroke-width="1"/>
  <text x="825.10" y="227.90" font-size="11" font-weight="700" fill="#f2f2f2" textLength="89.10" lengthAdjust="spacingAndGlyphs">10 Oct 2025, 11:00</text>
  <text x="835.00" y="251.10" font-size="11" font-weight="400" fill="#e2e2e4" textLength="55.70" lengthAdjust="spacingAndGlyphs" stroke="#e2e2e4" stroke-width="0.3" stroke-linejoin="round">DOGE Price</text>
  <text x="926.70" y="251.10" font-size="11" font-weight="700" fill="#f4f4f4" textLength="26.20" lengthAdjust="spacingAndGlyphs">$0.25</text>
  <text x="835.00" y="267.20" font-size="11" font-weight="400" fill="#e2e2e4" textLength="62.00" lengthAdjust="spacingAndGlyphs" stroke="#e2e2e4" stroke-width="0.3" stroke-linejoin="round">OI-Weighted</text>
  <text x="912.20" y="267.20" font-size="11" font-weight="700" fill="#f4f4f4" textLength="40.70" lengthAdjust="spacingAndGlyphs">0.0103%</text>
  <!-- corner widget -->
  <rect x="1009.3" y="420.4" width="30" height="23.4" rx="5" fill="#1c1e24"/>
  <path d="M1020.10,425.70 L1021.98,427.07 L1024.27,427.43 L1024.63,429.72 L1026.00,431.60 L1024.63,433.48 L1024.27,435.77 L1021.98,436.13 L1020.10,437.50 L1018.22,436.13 L1015.93,435.77 L1015.57,433.48 L1014.20,431.60 L1015.57,429.72 L1015.93,427.43 L1018.22,427.07 Z" fill="none" stroke="#e4e4e4" stroke-width="1.35" stroke-linejoin="round"/>
  <rect x="1019.35" y="428.5" width="1.5" height="4.3" rx="0.3" fill="#e4e4e4"/>
  <rect x="1019.35" y="433.9" width="1.5" height="1.4" rx="0.3" fill="#e4e4e4"/>
</svg>
</body>
</html>
